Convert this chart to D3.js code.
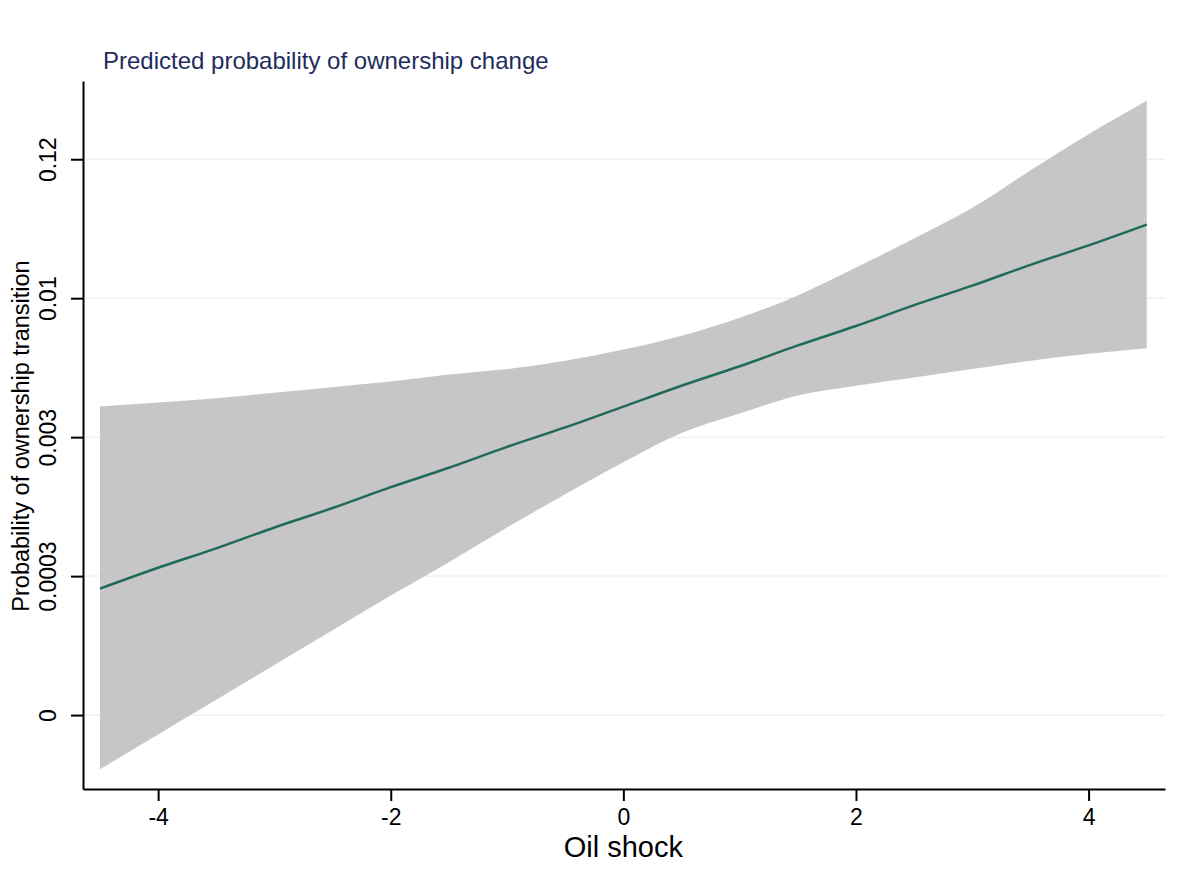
<!DOCTYPE html>
<html>
<meta charset="utf-8">
<style>
body {
  margin: 0;
  background: #fff;
  font-family: Arial, "Liberation Sans", sans-serif;
}
.grid line {
  stroke: #eaf3f3;
  stroke-width: 1.5px;
}
.axis path, .axis line {
  stroke: #000;
  stroke-width: 2px;
}
</style>
<body>
<svg width="1180" height="896"></svg>
<script src="https://cdnjs.cloudflare.com/ajax/libs/d3/7.8.5/d3.min.js"></script>
<script>

// oil shock values (x)
var oilShock = [-4.5, -4, -3.5, -3, -2.5, -2, -1.5, -1, -0.5, 0, 0.5, 1, 1.5, 2, 2.5, 3, 3.5, 4, 4.5];

// predicted value and CI, in y-axis tick units (0 = "0", 1 = "0.0003", ...)
var predicted = [0.91, 1.06, 1.20, 1.35, 1.49, 1.64, 1.78, 1.93, 2.07, 2.22, 2.37, 2.51, 2.66, 2.80, 2.95, 3.09, 3.24, 3.38, 3.53];
var upperCI   = [2.22, 2.25, 2.28, 2.32, 2.36, 2.40, 2.45, 2.49, 2.55, 2.63, 2.73, 2.86, 3.02, 3.22, 3.43, 3.65, 3.92, 4.18, 4.42];
var lowerCI   = [-0.39, -0.14, 0.11, 0.36, 0.61, 0.86, 1.10, 1.35, 1.59, 1.82, 2.03, 2.17, 2.30, 2.37, 2.43, 2.49, 2.55, 2.60, 2.64];

var xTicks = [-4, -2, 0, 2, 4];
var yTicks = [0, 1, 2, 3, 4];
var yTickLabels = ["0", "0.0003", "0.003", "0.01", "0.12"];

var svg = d3.select("svg"),
    mLeft = 83, mRight = 1165, mTop = 81, mBottom = 789;

var x = d3.scaleLinear().domain([-4.646, 4.657]).range([mLeft, mRight]);
var y = d3.scaleLinear().domain([-0.532, 4.563]).range([mBottom, mTop]);

var rows = oilShock.map(function(d, i) {
  return {x: d, p: predicted[i], lo: lowerCI[i], hi: upperCI[i]};
});

// grid lines
svg.append("g")
    .attr("class", "grid")
  .selectAll("line")
  .data(yTicks)
  .enter().append("line")
    .attr("x1", mLeft)
    .attr("x2", mRight)
    .attr("y1", function(d) { return y(d); })
    .attr("y2", function(d) { return y(d); });

// confidence band
svg.append("path")
    .datum(rows)
    .attr("fill", "#c6c6c6")
    .attr("d", d3.area()
      .curve(d3.curveMonotoneX)
      .x(function(d) { return x(d.x); })
      .y0(function(d) { return y(d.lo); })
      .y1(function(d) { return y(d.hi); }));

// prediction line
svg.append("path")
    .datum(rows)
    .attr("fill", "none")
    .attr("stroke", "#1f6a5c")
    .attr("stroke-width", 2.5)
    .attr("d", d3.line()
      .curve(d3.curveMonotoneX)
      .x(function(d) { return x(d.x); })
      .y(function(d) { return y(d.p); }));

// x axis
var xAxis = svg.append("g")
    .attr("class", "axis")
    .attr("transform", "translate(0," + mBottom + ")")
    .call(d3.axisBottom(x).tickValues(xTicks).tickSize(12).tickSizeOuter(0).tickPadding(8)
      .tickFormat(function(d) { return d < 0 ? "-" + Math.abs(d) : d; }));

xAxis.selectAll(".tick text")
    .style("font-size", "23px")
    .style("font-family", "Arial, 'Liberation Sans', sans-serif")
    .attr("fill", "#000");

// y axis
var yAxis = svg.append("g")
    .attr("class", "axis")
    .attr("transform", "translate(" + mLeft + ",0)")
    .call(d3.axisLeft(y).tickValues(yTicks).tickSize(12).tickSizeOuter(0)
      .tickFormat(function(d, i) { return yTickLabels[i]; }));

yAxis.selectAll(".tick text")
    .style("font-size", "23px")
    .style("font-family", "Arial, 'Liberation Sans', sans-serif")
    .attr("fill", "#000")
    .attr("transform", "rotate(-90)")
    .attr("text-anchor", "middle")
    .attr("x", 0)
    .attr("y", -27)
    .attr("dy", 0);

// titles
svg.append("text")
    .attr("x", 103)
    .attr("y", 69)
    .attr("fill", "#1e2d5c")
    .style("font-size", "24px")
    .text("Predicted probability of ownership change");

svg.append("text")
    .attr("x", x(0))
    .attr("y", 857)
    .attr("text-anchor", "middle")
    .style("font-size", "29px")
    .text("Oil shock");

svg.append("text")
    .attr("transform", "translate(29," + ((mTop + mBottom) / 2 + 1) + ") rotate(-90)")
    .attr("text-anchor", "middle")
    .style("font-size", "23.5px")
    .text("Probability of ownership transition");

</script>
</body>
</html>
